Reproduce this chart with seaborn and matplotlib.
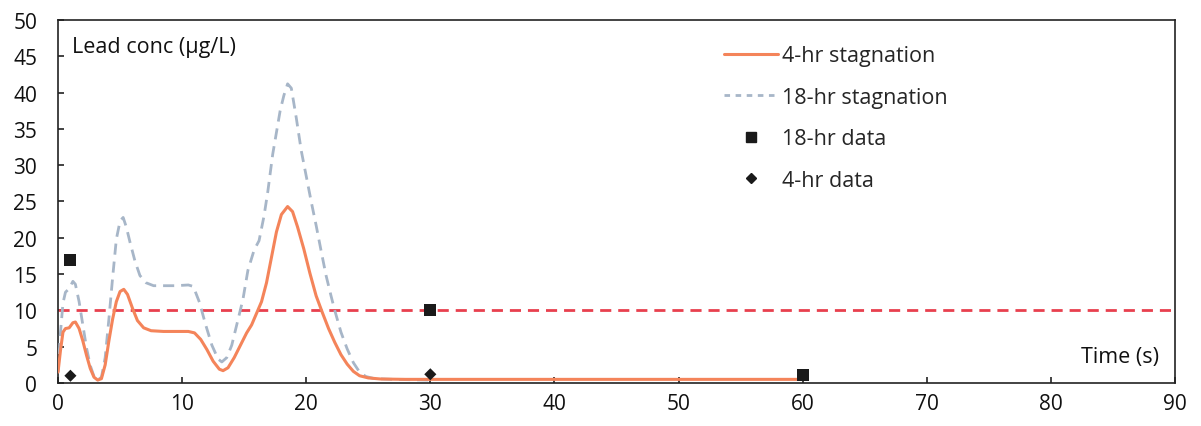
import numpy as np
import pandas as pd
import seaborn as sns
import matplotlib
matplotlib.use("Agg")
import matplotlib.pyplot as plt
from matplotlib.lines import Line2D

# ---------------- data ----------------
t4 = [0, 0.2, 0.4, 0.6, 0.9, 1.2, 1.4, 1.7, 2.0, 2.3, 2.6, 2.9, 3.2, 3.5, 3.8,
      4.1, 4.4, 4.7, 5.0, 5.3, 5.6, 6.0, 6.4, 6.9, 7.5, 8.5, 9.5, 10.5, 11.0,
      11.5, 12.0, 12.5, 13.0, 13.3, 13.7, 14.2, 14.7, 15.2, 15.6, 16.0, 16.4,
      16.8, 17.2, 17.6, 18.0, 18.5, 18.9, 19.3, 19.8, 20.3, 20.8, 21.3, 21.8,
      22.3, 22.8, 23.3, 23.8, 24.3, 25.0, 26.0, 28.0, 30.0, 40.0, 50.0, 60.0]
v4 = [1.5, 4.5, 7.0, 7.5, 7.6, 8.3, 8.4, 7.5, 5.8, 3.8, 2.0, 0.8, 0.4, 0.6, 2.5,
      5.8, 8.8, 11.2, 12.6, 12.9, 12.2, 10.3, 8.6, 7.6, 7.2, 7.1, 7.1, 7.1, 6.9,
      6.0, 4.6, 3.0, 1.9, 1.7, 2.1, 3.5, 5.2, 6.9, 8.0, 9.6, 11.2,
      13.8, 17.3, 20.8, 23.2, 24.3, 23.6, 21.5, 18.5, 15.1, 12.0, 9.7, 7.5,
      5.6, 3.9, 2.6, 1.6, 1.0, 0.7, 0.55, 0.5, 0.5, 0.5, 0.5, 0.5]

t18 = [0, 0.2, 0.4, 0.6, 0.9, 1.2, 1.4, 1.7, 2.0, 2.3, 2.6, 2.9, 3.2, 3.5, 3.8,
       4.1, 4.4, 4.7, 5.0, 5.25, 5.5, 5.8, 6.2, 6.6, 7.1, 7.7, 8.5, 9.5, 10.5,
       10.9, 11.4, 11.9, 12.4, 12.9, 13.2, 13.6, 14.0, 14.4, 14.9, 15.3, 15.8,
       16.2, 16.6, 16.9, 17.3, 17.6, 17.9, 18.2, 18.5, 18.8, 19.2, 19.6, 20.0,
       20.4, 20.8, 21.2, 21.6, 22.0, 22.3, 22.8, 23.3, 23.8, 24.3, 24.8, 25.5,
       27.0, 30.0]
v18 = [1.5, 7.0, 11.0, 12.5, 13.0, 14.0, 13.6, 11.2, 8.0, 4.8, 2.4, 0.9, 0.4, 0.8, 3.5,
       8.8, 14.5, 19.8, 22.3, 22.8, 21.5, 19.4, 16.8, 14.8, 13.8, 13.4, 13.4, 13.4, 13.5,
       13.3, 11.1, 8.0, 5.2, 3.3, 2.9, 3.5, 5.2, 8.0, 11.5, 15.5, 18.3,
       19.6, 23.0, 26.3, 31.5, 34.5, 37.5, 39.6, 41.2, 40.6, 36.5, 32.0, 28.5,
       25.0, 21.7, 18.2, 14.8, 12.0, 10.0, 7.0, 4.7, 2.8, 1.5, 0.9, 0.6,
       0.5, 0.4]

data18_t = [1, 30, 60]
data18_v = [17, 10, 1.1]
data4_t = [1, 30]
data4_v = [1.0, 1.2]

limit_value = 10
x_ticks = [0, 10, 20, 30, 40, 50, 60, 70, 80, 90]
y_ticks = [0, 5, 10, 15, 20, 25, 30, 35, 40, 45, 50]

# ---------------- styling ----------------
sns.set_theme(style="white")
plt.rcParams['font.family'] = ['Open Sans', 'DejaVu Sans']

orange = "#F4845A"
grey = "#A7B6C8"
red = "#E8404E"

fig = plt.figure(figsize=(12.01, 4.27), dpi=100)
ax = fig.add_axes([0.0483, 0.1007, 0.9300, 0.8503])

df4 = pd.DataFrame({"t": t4, "v": v4})
df18 = pd.DataFrame({"t": t18, "v": v18})

sns.lineplot(data=df18, x="t", y="v", ax=ax, color=grey, linewidth=2.0,
             linestyle=(0, (4, 2.5)), zorder=3)
sns.lineplot(data=df4, x="t", y="v", ax=ax, color=orange, linewidth=2.2,
             zorder=4)
ax.axhline(limit_value, color=red, linewidth=2.0, linestyle=(0, (4, 2.5)),
           zorder=2)
sns.scatterplot(x=data18_t, y=data18_v, ax=ax, marker="s", s=75,
                color="#1a1a1a", edgecolor="none", zorder=5)
sns.scatterplot(x=data4_t, y=data4_v, ax=ax, marker="D", s=38,
                color="#1a1a1a", edgecolor="none", zorder=5)

ax.set_xlim(0, 90)
ax.set_ylim(0, 50)
ax.set_xticks(x_ticks)
ax.set_yticks(y_ticks)
ax.set_xlabel("")
ax.set_ylabel("")
for s in ax.spines.values():
    s.set_visible(True)
    s.set_color("#222222")
    s.set_linewidth(1.2)
ax.tick_params(axis="both", direction="in", length=4, width=1.2,
               color="#222222", labelsize=15, labelcolor="#111111")
ax.tick_params(axis="y", pad=15)
ax.tick_params(axis="x", pad=7)
ax.tick_params(top=False, right=False, left=True, bottom=True)

ax.text(0.0125, 0.928, "Lead conc (μg/L)", transform=ax.transAxes,
        fontsize=15.5, ha="left", va="center", color="#111111")
ax.text(0.986, 0.074, "Time (s)", transform=ax.transAxes,
        fontsize=15.5, ha="right", va="center", color="#111111")

handles = [
    Line2D([], [], color=orange, linewidth=2.2),
    Line2D([], [], color=grey, linewidth=2.0, linestyle=(0, (2, 2))),
    Line2D([], [], color="#1a1a1a", marker="s", linestyle="none", markersize=7),
    Line2D([], [], color="#1a1a1a", marker="D", linestyle="none", markersize=5),
]
labels = ["4-hr stagnation", "18-hr stagnation", "18-hr data", "4-hr data"]
ax.legend(handles, labels, loc="upper left", bbox_to_anchor=(0.596, 0.93),
          frameon=False, fontsize=15.5, handlelength=2.5, handletextpad=0.22,
          labelspacing=0.95, borderaxespad=0, borderpad=0)

fig.savefig("out.png", dpi=100)
